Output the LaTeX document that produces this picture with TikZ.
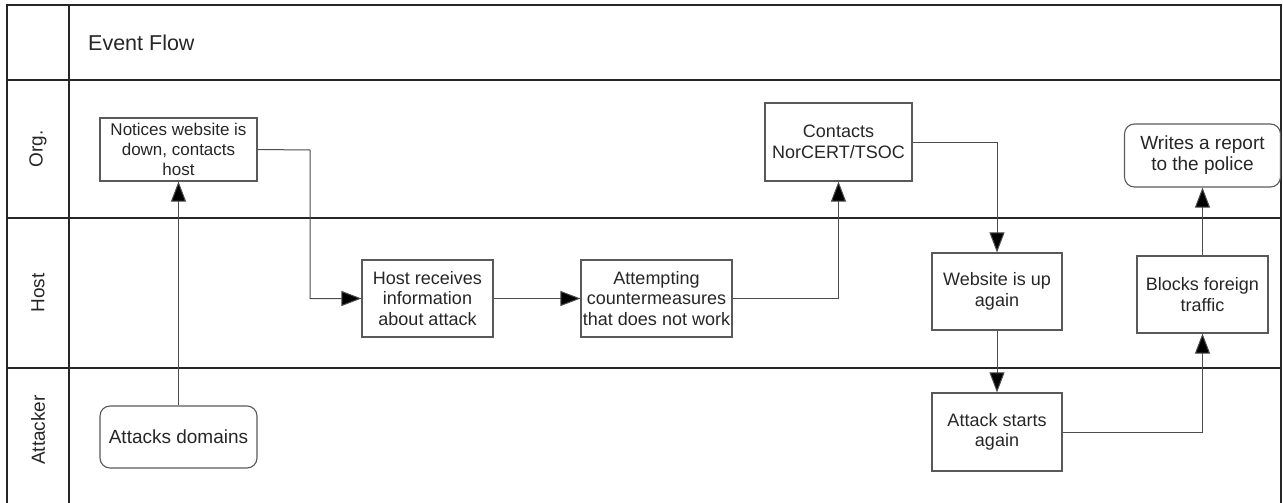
\documentclass[tikz,border=0pt]{standalone}
\usepackage{fontspec}
\setmainfont{Liberation Sans}
\usetikzlibrary{arrows.meta}
\begin{document}
\begin{tikzpicture}[x=1pt,y=-1pt,
  frame/.style={draw=black!85, line width=1.3pt},
  box/.style={draw=black!65, line width=1.1pt, align=center, inner sep=1pt, text=black!85,
    font=\fontsize{18}{20.5}\selectfont},
  rbox/.style={box, rounded corners=10pt},
  conn/.style={draw=black!70, line width=1pt, -{Triangle[length=20pt,width=15pt,fill=black]}},
  lane/.style={rotate=90, font=\fontsize{19}{22}\selectfont, text=black!85},
]
\useasboundingbox (0,0) rectangle (1283,503);
% frame
\draw[frame] (7,503) -- (7,5) -- (1281,5) -- (1281,503);
\draw[frame] (69,5) -- (69,503);
\draw[frame] (7,80) -- (1281,80);
\draw[frame] (7,218) -- (1281,218);
\draw[frame] (7,368) -- (1281,368);
% headers
\node[anchor=west, font=\fontsize{21.5}{24}\selectfont, text=black!85, inner sep=0pt] (title) at (88,43) {Event Flow};
\node[lane] (lorg) at (38,149) {Org.};
\node[lane] (lhost) at (38,293) {Host};
\node[lane] (latt) at (38,430) {Attacker};
% boxes
\node[box, minimum width=157pt, minimum height=63pt, font=\fontsize{17}{20}\selectfont] (notices) at (178.5,149.5) {Notices website is\\down, contacts\\host};
\node[rbox, minimum width=157pt, minimum height=62pt, font=\fontsize{19}{21}\selectfont] (attacks) at (178.5,437) {Attacks domains};
\node[box, minimum width=131pt, minimum height=77pt] (hostrec) at (427.5,298.5) {Host receives\\information\\about attack};
\node[box, minimum width=151pt, minimum height=77pt] (attempt) at (656.5,298.5) {Attempting\\countermeasures\\that does not work};
\node[box, minimum width=147pt, minimum height=78pt] (contacts) at (838.5,142) {Contacts\\NorCERT/TSOC};
\node[box, minimum width=130pt, minimum height=77pt] (website) at (997,291.5) {Website is up\\again};
\node[box, minimum width=130pt, minimum height=78pt] (again) at (997,432) {Attack starts\\again};
\node[box, minimum width=131pt, minimum height=77pt] (blocks) at (1202.5,294.5) {Blocks foreign\\traffic};
\node[rbox, minimum width=156pt, minimum height=63pt, font=\fontsize{19}{21}\selectfont] (writes) at (1202.5,155.5) {Writes a report\\to the police};
% connectors
\coordinate (bend1) at (310,150);
\draw[conn] (attacks.north) -- (notices.south);
\draw[conn] (notices.east) -- (bend1) -- (bend1 |- hostrec.west) -- (hostrec.west);
\draw[conn] (hostrec.east) -- (attempt.west);
\draw[conn] (attempt.east) -| (contacts.south);
\draw[conn] (contacts.east) -| (website.north);
\draw[conn] (website.south) -- (again.north);
\draw[conn] (again.east) -| (blocks.south);
\draw[conn] (blocks.north) -- (writes.south);
\end{tikzpicture}
\end{document}
